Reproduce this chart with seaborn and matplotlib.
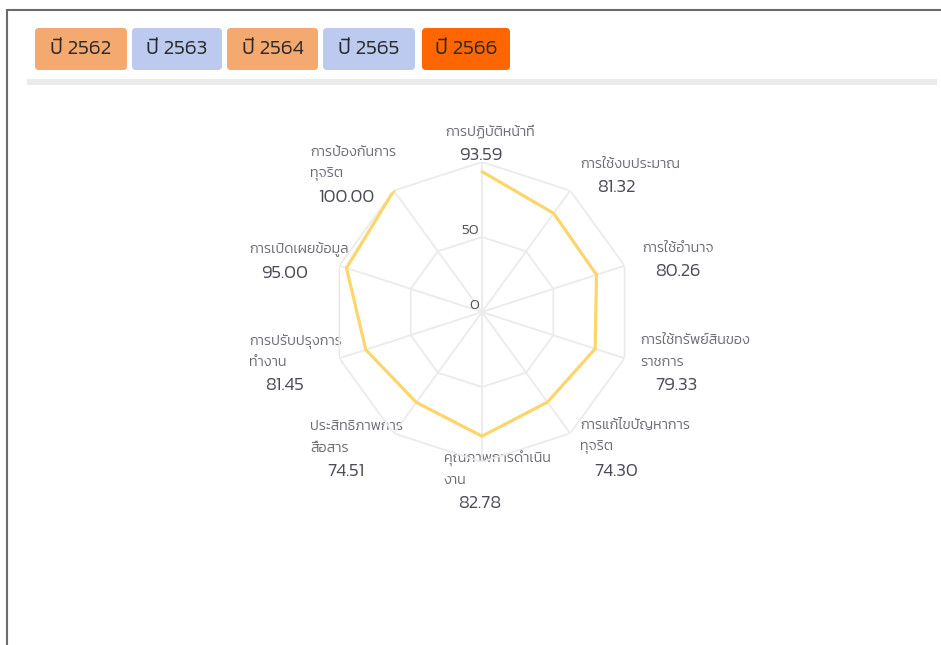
import numpy as np
import pandas as pd
import matplotlib
matplotlib.use('Agg')
import matplotlib.pyplot as plt
from matplotlib.patches import FancyBboxPatch
import seaborn as sns

categories = ['การปฏิบัติหน้าที่', 'การใช้งบประมาณ', 'การใช้อำนาจ',
              'การใช้ทรัพย์สินของ\nราชการ', 'การแก้ไขปัญหาการ\nทุจริต',
              'คุณภาพการดำเนิน\nงาน', 'ประสิทธิภาพการ\nสื่อสาร',
              'การปรับปรุงการ\nทำงาน', 'การเปิดเผยข้อมูล', 'การป้องกันการ\nทุจริต']
scores = [93.59, 81.32, 80.26, 79.33, 74.30, 82.78, 74.51, 81.45, 95.00, 100.00]
years = ['ปี 2562', 'ปี 2563', 'ปี 2564', 'ปี 2565', 'ปี 2566']
year_colors = ['#f4a971', '#bccaef', '#f4a971', '#bccaef', '#ff6501']
ring_ticks = [0, 50, 100]

sns.set_theme(style='white')
plt.rcParams['font.family'] = ['Kanit', 'DejaVu Sans']

W, H = 941, 645
fig = plt.figure(figsize=(W / 100, H / 100), dpi=100)

# page frame, year buttons and separator, drawn in pixel coords
bg = fig.add_axes([0, 0, 1, 1])
bg.set_xlim(0, W)
bg.set_ylim(H, 0)
bg.axis('off')
bg.plot([7, 7, W], [H, 10, 10], color='#6b6b6b', lw=1.5, solid_joinstyle='miter')
bg.add_patch(plt.Rectangle((27, 79), 910, 6, color='#ebebeb', lw=0))
btn_x = [35, 132, 227, 323, 422]
btn_w = [92, 90, 91, 92, 88]
for x, w, label, c in zip(btn_x, btn_w, years, year_colors):
    bg.add_patch(FancyBboxPatch((x, 28), w, 42, boxstyle='round,pad=0,rounding_size=4',
                                fc=c, ec='none'))
    bg.text(x + w / 2, 49, label, ha='center', va='center', fontsize=15,
            color='#2b2b2b', fontweight=300)

# radar
n = len(categories)
theta = np.linspace(0, 2 * np.pi, n, endpoint=False)
df = pd.DataFrame({'theta': np.append(theta, theta[0]),
                   'score': scores + scores[:1]})

cx, cy, R = 482, 312, 150
ax = fig.add_axes([(cx - R) / W, (H - cy - R) / H, 2 * R / W, 2 * R / H], projection='polar')
ax.set_theta_zero_location('N')
ax.set_theta_direction(-1)
for r in ring_ticks[1:]:
    ax.plot(np.append(theta, theta[0]), [r] * (n + 1), color='#ebebeb', lw=1.3, zorder=1)
for t in theta:
    ax.plot([t, t], [0, ring_ticks[-1]], color='#ebebeb', lw=1.3, zorder=1)
sns.lineplot(data=df, x='theta', y='score', sort=False, ax=ax, color='#fcd66c', lw=2.3, zorder=3)
ax.set_ylim(0, ring_ticks[-1])
ax.grid(False)
ax.spines['polar'].set_visible(False)
ax.set_xticks([])
ax.set_yticks([])
ax.set_xlabel('')
ax.set_ylabel('')
ax.patch.set_alpha(0)
for r in ring_ticks[:2]:
    ax.annotate(str(r), (0, r), xytext=(-2, 4.5), textcoords='offset points',
                ha='right', va='center', fontsize=11, color='#555555', fontweight=300)

# axis names with values
lab_x = [445, 580, 642, 640, 580, 444, 310, 249, 249, 310]
val_y = [155, 187, 272, 386, 471, 503, 471, 386, 273, 198]
for name, v, x, y in zip(categories, scores, lab_x, val_y):
    lines = name.split('\n')
    for k, line in enumerate(reversed(lines)):
        bg.text(x, y - 23 - 22 * k, line, ha='left', va='center', fontsize=10.3,
                color='#6b6b76', fontweight=300)
    bg.text(x + 36, y, f'{v:.2f}', ha='center', va='center', fontsize=13.3,
            color='#4c4c58', fontweight=300)

fig.savefig('out.png', dpi=100)
